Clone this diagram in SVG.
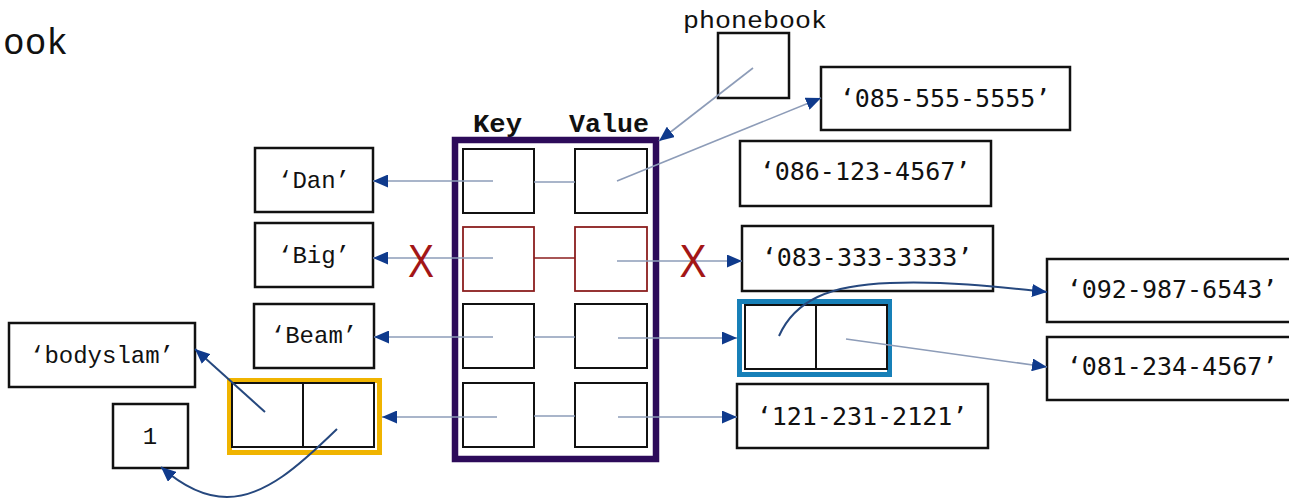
<svg xmlns="http://www.w3.org/2000/svg" width="1289" height="498" viewBox="0 0 1289 498">
  <style>
    .box { fill: #fff; stroke: #111; stroke-width: 2.5; }
    .cell { fill: #fff; stroke: #111; stroke-width: 2; }
    .dead { fill: #fff; stroke: #8b1e1e; stroke-width: 1.8; }
    .mono { font-family: "Liberation Mono", "Courier New", monospace; fill: #111; }
    .str { font-family: "Liberation Mono", "Courier New", monospace; font-size: 24px; fill: #111; text-anchor: middle; }
    .num { font-family: "DejaVu Sans Mono", "Liberation Mono", monospace; font-size: 25px; fill: #111; text-anchor: middle; }
    .hdr { font-family: "Liberation Mono", "Courier New", monospace; font-size: 26px; font-weight: bold; fill: #111; }
    .ref { fill: none; stroke: #8d9cb8; stroke-width: 1.6; }
    .ptr { fill: none; stroke: #8d9cb8; stroke-width: 1.6; marker-end: url(#head); }
    .bend { fill: none; stroke: #26487e; stroke-width: 2; marker-end: url(#head); }
    .cross { font-family: "Liberation Sans", Arial, sans-serif; font-size: 46px; fill: #a31616; text-anchor: middle; }
  </style>
  <defs>
    <marker id="head" markerUnits="userSpaceOnUse" markerWidth="15" markerHeight="13" refX="15" refY="6.5" orient="auto">
      <path d="M0,0 L15,6.5 L0,13 z" fill="#0f3a8c"/>
    </marker>
  </defs>

  <rect width="1289" height="498" fill="#fff"/>

  <!-- clipped title fragment -->
  <text class="mono" x="3" y="54" font-size="36" fill="#222" textLength="65" lengthAdjust="spacingAndGlyphs">ook</text>

  <!-- phonebook variable -->
  <g id="phonebook">
    <text class="mono" x="683" y="28" font-size="23" textLength="144" lengthAdjust="spacingAndGlyphs">phonebook</text>
    <rect class="box" x="718" y="33" width="71" height="65"/>
  </g>

  <!-- dictionary table -->
  <g id="dict">
    <text class="hdr" x="473" y="132" textLength="49" lengthAdjust="spacingAndGlyphs">Key</text>
    <text class="hdr" x="569" y="132" textLength="80" lengthAdjust="spacingAndGlyphs">Value</text>
    <rect x="455" y="140" width="201" height="319" fill="none" stroke="#2d0b5a" stroke-width="6.5"/>
    <rect class="cell" x="463" y="149" width="71" height="64"/>
    <rect class="cell" x="575" y="149" width="72" height="64"/>
    <rect class="dead" x="463" y="227" width="71" height="64"/>
    <rect class="dead" x="575" y="227" width="72" height="64"/>
    <rect class="cell" x="463" y="304" width="71" height="64"/>
    <rect class="cell" x="575" y="304" width="72" height="64"/>
    <rect class="cell" x="463" y="383" width="71" height="64"/>
    <rect class="cell" x="575" y="383" width="72" height="64"/>
  </g>

  <!-- key strings -->
  <g id="key-dan">
    <rect class="box" x="255" y="148" width="118" height="64"/>
    <text class="str" x="314" y="188">‘Dan’</text>
  </g>
  <g id="key-big">
    <rect class="box" x="255" y="223" width="118" height="64"/>
    <text class="str" x="314" y="263">‘Big’</text>
  </g>
  <g id="key-beam">
    <rect class="box" x="254" y="304" width="120" height="64"/>
    <text class="str" x="314" y="343">‘Beam’</text>
  </g>

  <!-- tuple key ('bodyslam', 1) -->
  <g id="tuple-key">
    <rect x="229.5" y="380.5" width="150" height="72" fill="none" stroke="#f0b400" stroke-width="5"/>
    <rect class="cell" x="232" y="383" width="142" height="64"/>
    <line x1="303" y1="383" x2="303" y2="447" stroke="#111" stroke-width="2"/>
  </g>
  <g id="str-bodyslam">
    <rect class="box" x="9" y="323" width="186" height="64"/>
    <text class="str" x="102" y="363">‘bodyslam’</text>
  </g>
  <g id="int-1">
    <rect class="box" x="113" y="404" width="75" height="64"/>
    <text class="str" x="150" y="444">1</text>
  </g>

  <!-- phone number strings -->
  <g id="num-085">
    <rect class="box" x="821" y="67" width="249" height="63"/>
    <text class="num" x="945" y="107">‘085-555-5555’</text>
  </g>
  <g id="num-086">
    <rect class="box" x="740" y="141" width="251" height="65"/>
    <text class="num" x="865" y="180">‘086-123-4567’</text>
  </g>
  <g id="num-083">
    <rect class="box" x="742" y="226" width="251" height="65"/>
    <text class="num" x="867" y="266">‘083-333-3333’</text>
  </g>
  <g id="num-121">
    <rect class="box" x="737" y="384" width="251" height="64"/>
    <text class="num" x="862" y="425">‘121-231-2121’</text>
  </g>
  <g id="num-092">
    <rect class="box" x="1047" y="259" width="252" height="63"/>
    <text class="num" x="1172" y="298">‘092-987-6543’</text>
  </g>
  <g id="num-081">
    <rect class="box" x="1047" y="337" width="252" height="63"/>
    <text class="num" x="1172" y="375">‘081-234-4567’</text>
  </g>

  <!-- tuple value -->
  <g id="tuple-value">
    <rect x="739.5" y="301.5" width="150" height="73" fill="none" stroke="#1780b8" stroke-width="5"/>
    <rect class="cell" x="745" y="305" width="142" height="64"/>
    <line x1="816" y1="305" x2="816" y2="369" stroke="#111" stroke-width="2"/>
  </g>

  <!-- references -->
  <g id="connectors">
    <path class="ptr" d="M753,68 L659,141"/>
    <!-- row 1 -->
    <path class="ptr" d="M493,181 L373,181"/>
    <path class="ref" d="M534,182 L575,182"/>
    <path class="ptr" d="M617,181 L821,98"/>
    <!-- row 2 (removed entry) -->
    <path class="ptr" d="M493,258 L373,258"/>
    <path d="M534,258 L575,258" fill="none" stroke="#8b1e1e" stroke-width="1.6"/>
    <path class="ptr" d="M617,261 L742,261"/>
    <!-- row 3 -->
    <path class="ptr" d="M493,337 L374,337"/>
    <path class="ref" d="M534,337 L575,337"/>
    <path class="ptr" d="M618,338 L737,338"/>
    <!-- row 4 -->
    <path class="ptr" d="M497,417 L382,417"/>
    <path class="ref" d="M534,416 L575,416"/>
    <path class="ptr" d="M618,417 L737,417"/>
    <!-- tuple elements -->
    <path class="bend" d="M265,412 L195,349"/>
    <path class="bend" d="M337,429 C300,465 265,497 227,497 C200,497 178,482 161,467"/>
    <path class="bend" d="M779,336 C795,300 830,285 890,283 C950,281 1000,287 1047,292"/>
    <path class="ptr" d="M846,339 L1047,367"/>
  </g>

  <!-- deletion marks -->
  <text class="cross" x="421" y="277" textLength="26" lengthAdjust="spacingAndGlyphs">X</text>
  <text class="cross" x="693" y="277" textLength="27" lengthAdjust="spacingAndGlyphs">X</text>
</svg>
